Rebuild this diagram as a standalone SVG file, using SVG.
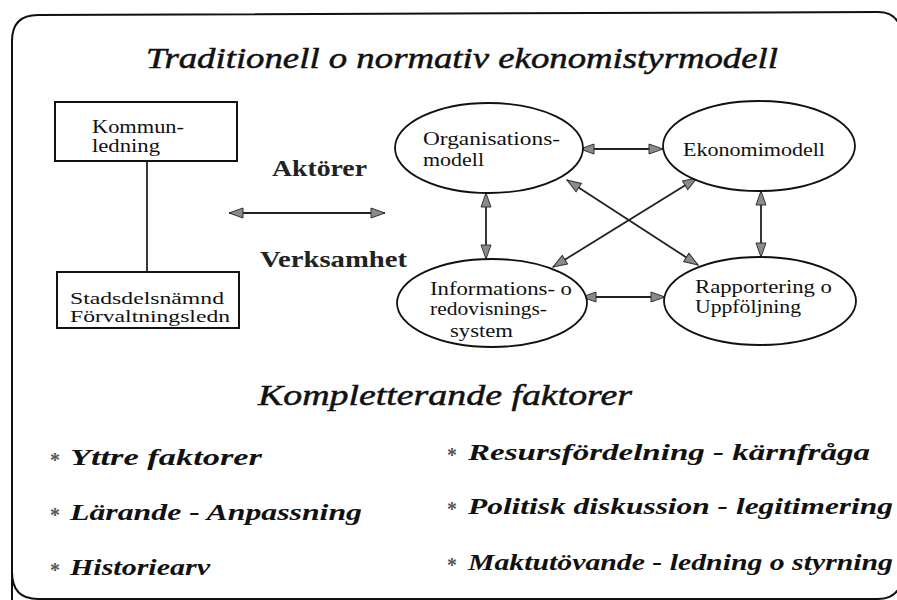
<svg xmlns="http://www.w3.org/2000/svg" width="897" height="600" viewBox="0 0 897 600" font-family="'Liberation Serif', 'DejaVu Serif', serif">
  <style>
    .frame { fill: none; stroke: #111; stroke-width: 2; }
    .box { fill: #fff; stroke: #111; stroke-width: 2; }
    .node { fill: #fff; stroke: #111; stroke-width: 1.8; }
    .link { fill: none; stroke: #222; stroke-width: 1.8; marker-start: url(#head); marker-end: url(#head); }
    .plain { fill: none; stroke: #222; stroke-width: 1.8; }
    .lbl { font-size: 19px; fill: #111; }
    .small { font-size: 17px; }
    .side { font-size: 23px; font-weight: bold; fill: #222; }
    .head { font-size: 30px; font-style: italic; fill: #111; stroke: #111; stroke-width: 0.5; }
    .item { font-size: 23px; font-style: italic; font-weight: bold; fill: #111; }
    .star { font-size: 20px; font-weight: bold; fill: #555; }
  </style>
  <defs>
    <marker id="head" viewBox="0 0 16 12" refX="15" refY="6" markerWidth="16" markerHeight="12" markerUnits="userSpaceOnUse" orient="auto-start-reverse">
      <path d="M1,1 L15,6 L1,11 Z" fill="#8a8a8a" stroke="#333" stroke-width="1"/>
    </marker>
  </defs>

  <!-- rounded outer frame -->
  <path class="frame" d="M12,602 L12,41 Q12,15 38,15 L878,12 Q900,12 902,36 L902,602"/>
  <path class="frame" d="M12,572 Q12,599 38,599 L878,599 Q898,599 902,580"/>

  <!-- headings -->
  <text class="head" x="146" y="68" textLength="632" lengthAdjust="spacingAndGlyphs">Traditionell o normativ ekonomistyrmodell</text>
  <text class="head" x="258" y="405" textLength="374" lengthAdjust="spacingAndGlyphs">Kompletterande faktorer</text>

  <!-- connectors -->
  <g id="connectors">
    <line class="plain" x1="147" y1="161" x2="147" y2="272"/>
    <line class="link" x1="229" y1="213" x2="385" y2="213"/>
    <line class="link" x1="580" y1="149" x2="663" y2="149"/>
    <line class="link" x1="582" y1="297" x2="665" y2="297"/>
    <line class="link" x1="486" y1="193" x2="486" y2="259"/>
    <line class="link" x1="761" y1="191" x2="761" y2="257"/>
    <line class="link" x1="567" y1="180" x2="698" y2="265"/>
    <line class="link" x1="697" y1="178" x2="553" y2="267"/>
  </g>

  <!-- left hierarchy -->
  <g id="kommunledning">
    <rect class="box" x="55" y="102" width="182" height="59"/>
    <text class="lbl" x="92" y="133" textLength="92" lengthAdjust="spacingAndGlyphs">Kommun-</text>
    <text class="lbl" x="92" y="152" textLength="68" lengthAdjust="spacingAndGlyphs">ledning</text>
  </g>
  <g id="stadsdelsnamnd">
    <rect class="box" x="57" y="272" width="182" height="56"/>
    <text class="lbl small" x="70" y="304" textLength="154" lengthAdjust="spacingAndGlyphs">Stadsdelsnämnd</text>
    <text class="lbl small" x="70" y="322" textLength="160" lengthAdjust="spacingAndGlyphs">Förvaltningsledn</text>
  </g>

  <text class="side" x="272" y="176" textLength="95" lengthAdjust="spacingAndGlyphs">Aktörer</text>
  <text class="side" x="260" y="267" textLength="147" lengthAdjust="spacingAndGlyphs">Verksamhet</text>

  <!-- model nodes -->
  <g id="organisationsmodell">
    <ellipse class="node" cx="489" cy="148" rx="94" ry="45"/>
    <text class="lbl" x="423" y="145" textLength="137" lengthAdjust="spacingAndGlyphs">Organisations-</text>
    <text class="lbl" x="423" y="166" textLength="61" lengthAdjust="spacingAndGlyphs">modell</text>
  </g>
  <g id="ekonomimodell">
    <ellipse class="node" cx="759" cy="146" rx="96" ry="45"/>
    <text class="lbl" x="683" y="156" textLength="142" lengthAdjust="spacingAndGlyphs">Ekonomimodell</text>
  </g>
  <g id="informationssystem">
    <ellipse class="node" cx="492" cy="303" rx="95" ry="44"/>
    <text class="lbl" x="430" y="295" textLength="142" lengthAdjust="spacingAndGlyphs">Informations- o</text>
    <text class="lbl" x="430" y="315" textLength="117" lengthAdjust="spacingAndGlyphs">redovisnings-</text>
    <text class="lbl" x="450" y="337" textLength="63" lengthAdjust="spacingAndGlyphs">system</text>
  </g>
  <g id="rapportering">
    <ellipse class="node" cx="760" cy="301" rx="96" ry="44"/>
    <text class="lbl" x="695" y="293" textLength="137" lengthAdjust="spacingAndGlyphs">Rapportering o</text>
    <text class="lbl" x="695" y="313" textLength="106" lengthAdjust="spacingAndGlyphs">Uppföljning</text>
  </g>

  <!-- complementary factors -->
  <g id="faktorer">
    <text class="star" x="50" y="467">*</text>
    <text class="item" x="70" y="465" textLength="192" lengthAdjust="spacingAndGlyphs">Yttre faktorer</text>
    <text class="star" x="50" y="522">*</text>
    <text class="item" x="70" y="520" textLength="292" lengthAdjust="spacingAndGlyphs">Lärande - Anpassning</text>
    <text class="star" x="50" y="577">*</text>
    <text class="item" x="70" y="575" textLength="140" lengthAdjust="spacingAndGlyphs">Historiearv</text>

    <text class="star" x="447" y="462">*</text>
    <text class="item" x="468" y="460" textLength="402" lengthAdjust="spacingAndGlyphs">Resursfördelning - kärnfråga</text>
    <text class="star" x="447" y="516">*</text>
    <text class="item" x="468" y="514" textLength="425" lengthAdjust="spacingAndGlyphs">Politisk diskussion - legitimering</text>
    <text class="star" x="447" y="572">*</text>
    <text class="item" x="468" y="570" textLength="425" lengthAdjust="spacingAndGlyphs">Maktutövande - ledning o styrning</text>
  </g>
</svg>
